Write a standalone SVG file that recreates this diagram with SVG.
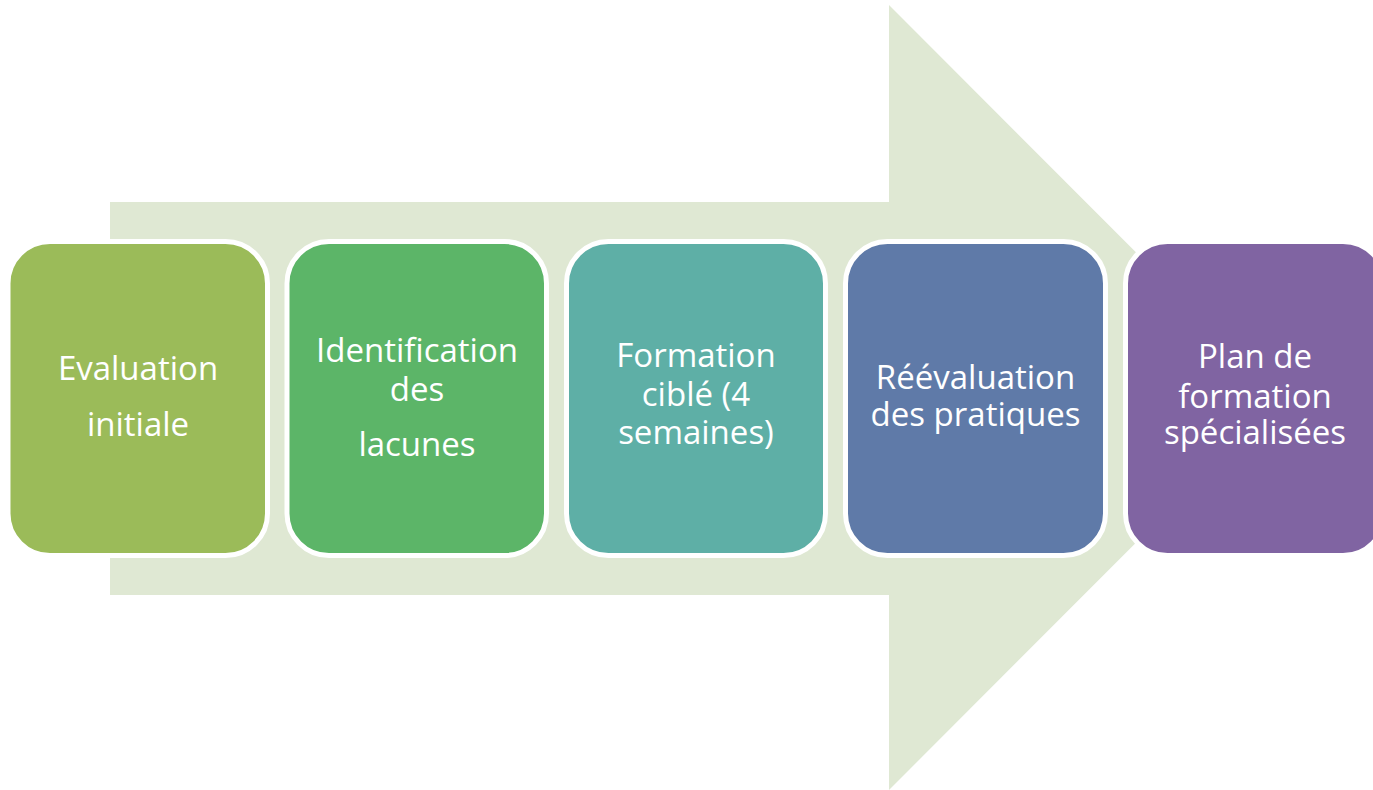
<svg xmlns="http://www.w3.org/2000/svg" width="1373" height="790" viewBox="0 0 1373 790">
<style>
.box{stroke:#ffffff;stroke-width:5}
.lbl{font-family:"Open Sans","DejaVu Sans",sans-serif;font-size:33px;fill:#ffffff;text-anchor:middle}
</style>
<rect width="1373" height="790" fill="#ffffff"/>
<g id="arrow">
<polygon points="110,202 889,202 889,5 1281,397.5 889,790 889,595 110,595" fill="#DFE8D3"/>
</g>
<g id="connectors"></g>
<g id="step1">
<rect class="box" x="8" y="241.5" width="259.5" height="314" rx="42" fill="#9BBB59"/>
<text class="lbl" x="138" y="380">Evaluation</text>
<text class="lbl" x="138" y="436">initiale</text>
</g>
<g id="step2">
<rect class="box" x="287" y="241.5" width="259.5" height="314" rx="42" fill="#5CB568"/>
<text class="lbl" x="417" y="362">Identification</text>
<text class="lbl" x="417" y="401">des</text>
<text class="lbl" x="417" y="456">lacunes</text>
</g>
<g id="step3">
<rect class="box" x="566.5" y="241.5" width="259" height="314" rx="42" fill="#5EAFA6"/>
<text class="lbl" x="696" y="367">Formation</text>
<text class="lbl" x="696" y="406">ciblé (4</text>
<text class="lbl" x="696" y="444">semaines)</text>
</g>
<g id="step4">
<rect class="box" x="845.5" y="241.5" width="260" height="314" rx="42" fill="#5F7AA8"/>
<text class="lbl" x="975.5" y="389">Réévaluation</text>
<text class="lbl" x="975.5" y="426">des pratiques</text>
</g>
<g id="step5">
<rect class="box" x="1125.5" y="241.5" width="259.5" height="314" rx="42" fill="#8064A2"/>
<text class="lbl" x="1255" y="368">Plan de</text>
<text class="lbl" x="1255" y="408">formation</text>
<text class="lbl" x="1255" y="444">spécialisées</text>
</g>
</svg>
